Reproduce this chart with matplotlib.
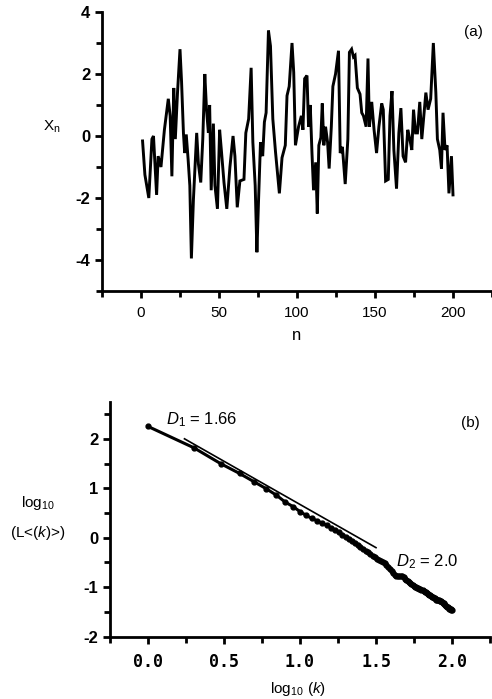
import numpy as np
import matplotlib
matplotlib.use("Agg")
import matplotlib.pyplot as plt
from matplotlib.ticker import MultipleLocator

plt.rcParams['font.family'] = ['Liberation Sans', 'DejaVu Sans']
plt.rcParams['mathtext.fontset'] = 'custom'
plt.rcParams['mathtext.rm'] = 'Liberation Sans'
plt.rcParams['mathtext.it'] = 'Liberation Sans:italic'
plt.rcParams['axes.unicode_minus'] = False

# ---- panel (a): time series X_n ----
series_n = [1, 2.5, 5, 7, 8, 10, 11, 12.8, 15, 16.4, 17.5, 18.7, 19.8, 21, 22, 23.4, 25, 26, 27.2, 28,
            29, 30.2, 31.3, 32.3, 33.6, 34.5, 35.7, 36.8, 38.3, 39.6, 40.9, 42, 43.2, 44, 45, 46.4, 47.4,
            49, 50.4, 51.5, 53.2, 55, 57, 59, 60.2, 61.7, 63.4, 66, 67.2, 69, 70.6, 71.7, 73.2, 74.3,
            75.3, 76.6, 78, 79.1, 80.2, 81.7, 83, 84.5, 86.2, 88.7, 90.4, 92.5, 93.6, 95, 96.8, 97.9,
            99, 101, 102.8, 103.8, 104.9, 106.4, 107.4, 108.5, 109.6, 110.6, 112, 113, 114, 115.3,
            116.2, 117.2, 118.3, 119.6, 120.6, 122, 123, 124.7, 126.6, 127.7, 129.1, 130.9, 132.6,
            133.6, 135, 136.2, 137.2, 138.7, 140.4, 141.5, 142.6, 144.3, 145.5, 146.4, 147.9, 149.4,
            151, 152.5, 154.3, 155.3, 156.8, 158.5, 159.6, 160.9, 162.1, 163.8, 165.3, 166.6, 168,
            169.6, 171, 172.3, 173.6, 174.7, 176, 177.2, 178.7, 180, 181.3, 182.6, 184, 185.7, 187.4,
            189, 190, 191.5, 192.6, 193.6, 194.9, 196.2, 197.4, 199, 200]
series_x = [-0.16, -1.25, -2.0, -0.1, 0.0, -1.9, -0.65, -1.0, 0.2, 0.75, 1.2, 0.65, -1.3, 1.55, -0.1,
            1.4, 2.8, 1.75, 0.1, -0.55, 0.05, -0.75, -1.6, -3.95, -2.05, -1.1, 0.1, -0.9, -1.5, -0.1,
            2.0, 0.85, 0.1, 1.0, -1.75, 0.4, -1.6, -2.35, 0.2, -0.45, -1.5, -2.35, -1.0, 0.0, -0.65,
            -2.3, -1.45, -1.4, 0.1, 0.55, 2.2, -0.2, -1.6, -3.75, -2.15, -0.2, -0.65, 0.45, 0.75,
            3.4, 2.9, 0.55, -0.5, -1.85, -0.7, -0.3, 1.3, 1.6, 3.0, 2.05, -0.3, 0.3, 0.65, 0.2, 1.85,
            1.95, 0.3, 1.0, -0.55, -1.75, -0.85, -2.5, -0.3, -0.05, 1.05, -0.3, 0.3, -0.2, -1.05,
            0.3, 1.6, 2.0, 2.75, -0.55, -0.35, -1.55, -0.1, 2.7, 2.8, 2.55, 2.6, 1.55, 1.35, 0.75,
            0.65, 0.3, 2.5, 0.3, 1.1, 0.2, -0.55, 0.3, 1.05, 0.85, -1.45, -1.4, 0.65, 1.45, -0.45,
            -1.7, 0.1, 0.9, -0.65, -0.85, 0.2, -0.1, -0.45, 0.85, 0.1, 0.1, 1.1, -0.1, 0.65, 1.4,
            0.85, 1.2, 3.0, 1.4, -0.1, -0.45, -1.05, 0.75, -0.45, -0.3, -1.85, -0.65, -1.9]
a_xticks = [0, 50, 100, 150, 200]
a_yticks = [-4, -2, 0, 2, 4]

# ---- panel (b): Higuchi curve ----
k_values = list(range(1, 101))
logL = [2.25, 1.82, 1.50, 1.30, 1.13, 0.99, 0.86, 0.72, 0.63, 0.53,
        0.45, 0.39, 0.34, 0.29, 0.25, 0.20, 0.16, 0.11, 0.06, 0.02,
        -0.02, -0.06, -0.10, -0.14, -0.18, -0.22, -0.26, -0.29, -0.33, -0.36,
        -0.39, -0.42, -0.44, -0.46, -0.48, -0.51, -0.55, -0.59, -0.63, -0.67,
        -0.71, -0.75, -0.78, -0.78, -0.77, -0.77, -0.78, -0.80, -0.83, -0.85,
        -0.87, -0.90, -0.92, -0.94, -0.96, -0.98, -0.99, -1.00, -1.01, -1.02,
        -1.03, -1.04, -1.05, -1.06, -1.08, -1.09, -1.10, -1.12, -1.13, -1.14,
        -1.15, -1.16, -1.18, -1.19, -1.20, -1.21, -1.22, -1.23, -1.25, -1.25,
        -1.26, -1.26, -1.27, -1.27, -1.28, -1.29, -1.31, -1.32, -1.34, -1.35,
        -1.37, -1.38, -1.39, -1.40, -1.42, -1.43, -1.44, -1.45, -1.46, -1.47]
fit_x = [0.24, 1.5]
fit_y = [2.0, -0.2]
b_xticks = [0.0, 0.5, 1.0, 1.5, 2.0]
b_xticklabels = ['0.0', '0.5', '1.0', '1.5', '2.0']
b_yticks = [-2, -1, 0, 1, 2]

W, H = 492, 699
fig = plt.figure(figsize=(W / 100, H / 100), dpi=100)

def fx(px):
    return px / W

def fy(py):
    return 1 - py / H

def style_axes(ax):
    for s in ['top', 'right']:
        ax.spines[s].set_visible(False)
    for s in ['left', 'bottom']:
        ax.spines[s].set_linewidth(2.0)
    ax.tick_params(which='major', direction='out', length=5, width=2.0, labelsize=11)
    ax.tick_params(which='minor', direction='out', length=4, width=2.0)
    ax.patch.set_alpha(0)

# panel (a)
axa = fig.add_axes([fx(102), fy(291), fx(492) - fx(102), fy(12) - fy(291)])
axa.plot(series_n, series_x, color='black', lw=2.1, solid_joinstyle='miter')
axa.set_xlim(-25, 225)
axa.set_ylim(-5, 4)
axa.set_xticks(a_xticks)
axa.set_yticks(a_yticks)
axa.xaxis.set_minor_locator(MultipleLocator(25))
axa.yaxis.set_minor_locator(MultipleLocator(1))
style_axes(axa)
for lab in axa.get_yticklabels():
    lab.set_fontweight('bold')
    lab.set_fontsize(12)
axa.tick_params(axis='x', pad=6)
fig.text(fx(52), fy(127), r'X$_\mathregular{n}$', fontsize=11, ha='center', va='center')
fig.text(fx(297), fy(336), 'n', fontsize=12, ha='center', va='center')
fig.text(fx(473), fy(32), '(a)', fontsize=11, ha='center', va='center')

# panel (b)
axb = fig.add_axes([fx(110), fy(636.7), fx(490) - fx(110), fy(401.7) - fy(636.7)])
axb.plot(np.log10(k_values), logL, color='black', lw=2.2, marker='o', ms=3.5)
axb.plot(fit_x, fit_y, color='black', lw=1.2)
axb.set_xlim(-0.25, 2.25)
axb.set_ylim(-2, 2.75)
axb.set_xticks(b_xticks)
axb.set_xticklabels(b_xticklabels)
axb.set_yticks(b_yticks)
axb.xaxis.set_minor_locator(MultipleLocator(0.25))
axb.yaxis.set_minor_locator(MultipleLocator(0.5))
style_axes(axb)
for lab in axb.get_yticklabels():
    lab.set_fontweight('bold')
    lab.set_fontsize(12)
for lab in axb.get_xticklabels():
    lab.set_family('DejaVu Sans Mono')
    lab.set_fontweight('bold')
    lab.set_fontsize(12)
axb.tick_params(axis='x', pad=7)
fig.text(fx(38), fy(503), r'log$_{10}$', fontsize=11, ha='center', va='center')
fig.text(fx(38), fy(533), r'(L<($k$)>)', fontsize=11, ha='center', va='center')
fig.text(fx(166), fy(420), r'$D_1$ = 1.66', fontsize=12, ha='left', va='center')
fig.text(fx(396), fy(562), r'$D_2$ = 2.0', fontsize=12, ha='left', va='center')
fig.text(fx(470), fy(423), '(b)', fontsize=11, ha='center', va='center')
fig.text(fx(298), fy(689), r'log$_{10}$ ($k$)', fontsize=11, ha='center', va='center')

fig.savefig('out.png', dpi=100)
